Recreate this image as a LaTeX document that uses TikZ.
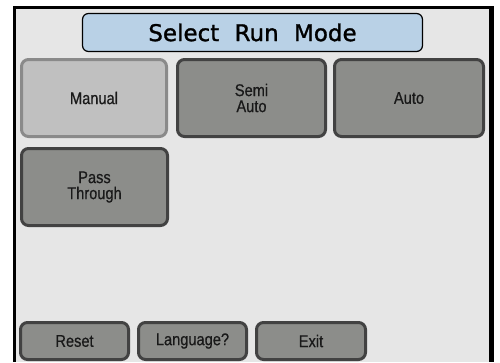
\documentclass[tikz,border=0pt]{standalone}
\usepackage{fontspec}
\newfontfamily\btnfont[FakeStretch=0.86,FakeBold=0.6]{Liberation Sans}
\newfontfamily\ttlfont[FakeBold=1.2]{DejaVu Sans}
\definecolor{screenbg}{HTML}{E6E6E6}
\definecolor{btnfill}{HTML}{8C8D8A}
\definecolor{btnedge}{HTML}{424242}
\definecolor{selfill}{HTML}{C0C0C0}
\definecolor{seledge}{HTML}{8A8A8A}
\definecolor{ttlfill}{HTML}{B9D1E6}
\tikzset{
  btn/.style={draw=btnedge, fill=btnfill, line width=3pt, rounded corners=7pt,
    minimum width=145pt, minimum height=77pt, inner sep=0pt, align=center,
    font=\btnfont\fontsize{17}{16}\selectfont, text=black!90},
  selbtn/.style={btn, draw=seledge, fill=selfill},
  smallbtn/.style={btn, minimum width=108pt, minimum height=37pt},
  ttlbox/.style={draw=black, fill=ttlfill, line width=1.2pt, rounded corners=6pt,
    minimum width=340pt, minimum height=38pt, inner sep=0pt,
    font=\ttlfont\fontsize{23}{23}\selectfont}
}
\begin{document}
\begin{tikzpicture}[x=1pt,y=-1pt]
\useasboundingbox (0,0) rectangle (500,362);
\fill[white] (0,0) rectangle (500,362);
\fill[black] (13,6) rectangle (494,362);
\fill[screenbg] (16,9) rectangle (489,362);
\node[ttlbox] (title) at (252.5,32.5) {Select\hspace{8pt} Run\hspace{8pt} Mode};
\node[selbtn] (manual) at (94,98) {Manual};
\node[btn, minimum width=148pt] (semi) at (251.5,98) {Semi\\Auto};
\node[btn, minimum width=149pt] (auto) at (409,98) {Auto};
\node[btn, minimum width=146pt] (pass) at (94.5,187) {Pass\\Through};
\node[smallbtn] (reset) at (74.5,341) {Reset};
\node[smallbtn] (lang) at (192.5,341) {Language?};
\node[smallbtn, minimum width=109pt] (exit) at (311,341) {Exit};
\end{tikzpicture}
\end{document}
